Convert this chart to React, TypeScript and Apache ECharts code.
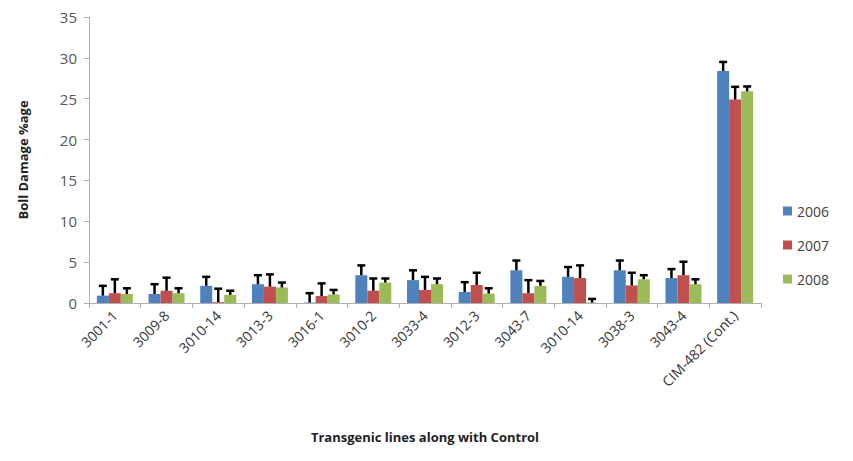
import React, { useEffect, useRef } from "react";
import * as echarts from "echarts";

const categories = ["3001-1", "3009-8", "3010-14", "3013-3", "3016-1", "3010-2", "3033-4", "3012-3", "3043-7", "3010-14", "3038-3", "3043-4", "CIM-482 (Cont.)"];
const years = ["2006", "2007", "2008"];
const values2006 = [0.9, 1.1, 2.1, 2.3, 0.05, 3.4, 2.8, 1.35, 4.0, 3.2, 4.0, 3.05, 28.4];
const values2007 = [1.2, 1.5, 0.1, 2.0, 0.85, 1.5, 1.6, 2.2, 1.2, 3.05, 2.15, 3.4, 24.9];
const values2008 = [1.1, 1.2, 1.0, 1.9, 1.05, 2.5, 2.3, 1.15, 2.1, 0.05, 2.9, 2.3, 25.9];
const errors2006 = [1.2, 1.2, 1.1, 1.1, 1.15, 1.2, 1.2, 1.2, 1.2, 1.2, 1.2, 1.1, 1.1];
const errors2007 = [1.7, 1.6, 1.65, 1.5, 1.55, 1.5, 1.6, 1.5, 1.6, 1.55, 1.55, 1.65, 1.55];
const errors2008 = [0.7, 0.6, 0.5, 0.6, 0.55, 0.5, 0.7, 0.65, 0.6, 0.45, 0.5, 0.6, 0.6];
const colors = ["#4F81BD", "#C0504D", "#9BBB59"];

const valueSets = [values2006, values2007, values2008];
const errorSets = [errors2006, errors2007, errors2008];
const BAR_W = 12;

export default function App() {
  const ref = useRef<HTMLDivElement>(null);
  useEffect(() => {
    if (!ref.current) return;
    const chart = echarts.init(ref.current, null, { renderer: "svg" });
    const barSeries = years.map((y, i) => ({
      name: y,
      type: "bar",
      data: valueSets[i],
      barWidth: BAR_W,
      barGap: "0%",
      itemStyle: { color: colors[i] },
    }));
    const errSeries = years.map((y, i) => ({
      type: "custom",
      silent: true,
      z: 5,
      data: valueSets[i].map((v, k) => [k, v, v + errorSets[i][k]]),
      renderItem: (params: any, api: any) => {
        const k = api.value(0);
        const off = (i - 1) * BAR_W;
        const p0 = api.coord([k, api.value(1)]);
        const p1 = api.coord([k, api.value(2)]);
        const x = p0[0] + off;
        return {
          type: "group",
          children: [
            { type: "line", shape: { x1: x, y1: p0[1], x2: x, y2: p1[1] }, style: { stroke: "#000", lineWidth: 2.5 } },
            { type: "line", shape: { x1: x - 4, y1: p1[1], x2: x + 4, y2: p1[1] }, style: { stroke: "#000", lineWidth: 2.5 } },
          ],
        };
      },
    }));
    chart.setOption({
      animation: false,
      textStyle: { fontFamily: "Open Sans" },
      grid: { left: 77, right: 84, top: 9, bottom: 150, containLabel: false },
      legend: {
        data: years,
        orient: "vertical",
        left: 770,
        top: 191,
        itemWidth: 9,
        itemHeight: 9,
        itemGap: 20,
        icon: "rect",
        textStyle: { fontSize: 14, color: "#404040", fontFamily: "Open Sans" },
      },
      xAxis: {
        type: "category",
        data: categories,
        name: "Transgenic lines along with Control",
        nameLocation: "middle",
        nameGap: 127,
        nameTextStyle: { fontSize: 13, fontWeight: "bold", color: "#222", fontFamily: "Open Sans" },
        axisLine: { lineStyle: { color: "#b0b0b0" } },
        axisTick: { show: true, alignWithLabel: false, length: 5, lineStyle: { color: "#b0b0b0" } },
        axisLabel: { rotate: 45, fontSize: 14, color: "#333", margin: 10, interval: 0 },
      },
      yAxis: {
        type: "value",
        min: 0,
        max: 35,
        interval: 5,
        name: "Boll Damage %age",
        nameLocation: "middle",
        nameGap: 60,
        nameTextStyle: { fontSize: 13, fontWeight: "bold", color: "#222", fontFamily: "Open Sans" },
        splitLine: { show: false },
        axisLine: { show: true, lineStyle: { color: "#b0b0b0" } },
        axisTick: { show: true, length: 5, lineStyle: { color: "#b0b0b0" } },
        axisLabel: { fontSize: 15, color: "#555", margin: 12 },
      },
      series: [...barSeries, ...errSeries],
    });
    return () => chart.dispose();
  }, []);
  return <div ref={ref} style={{ width: 837, height: 445 }} />;
}
